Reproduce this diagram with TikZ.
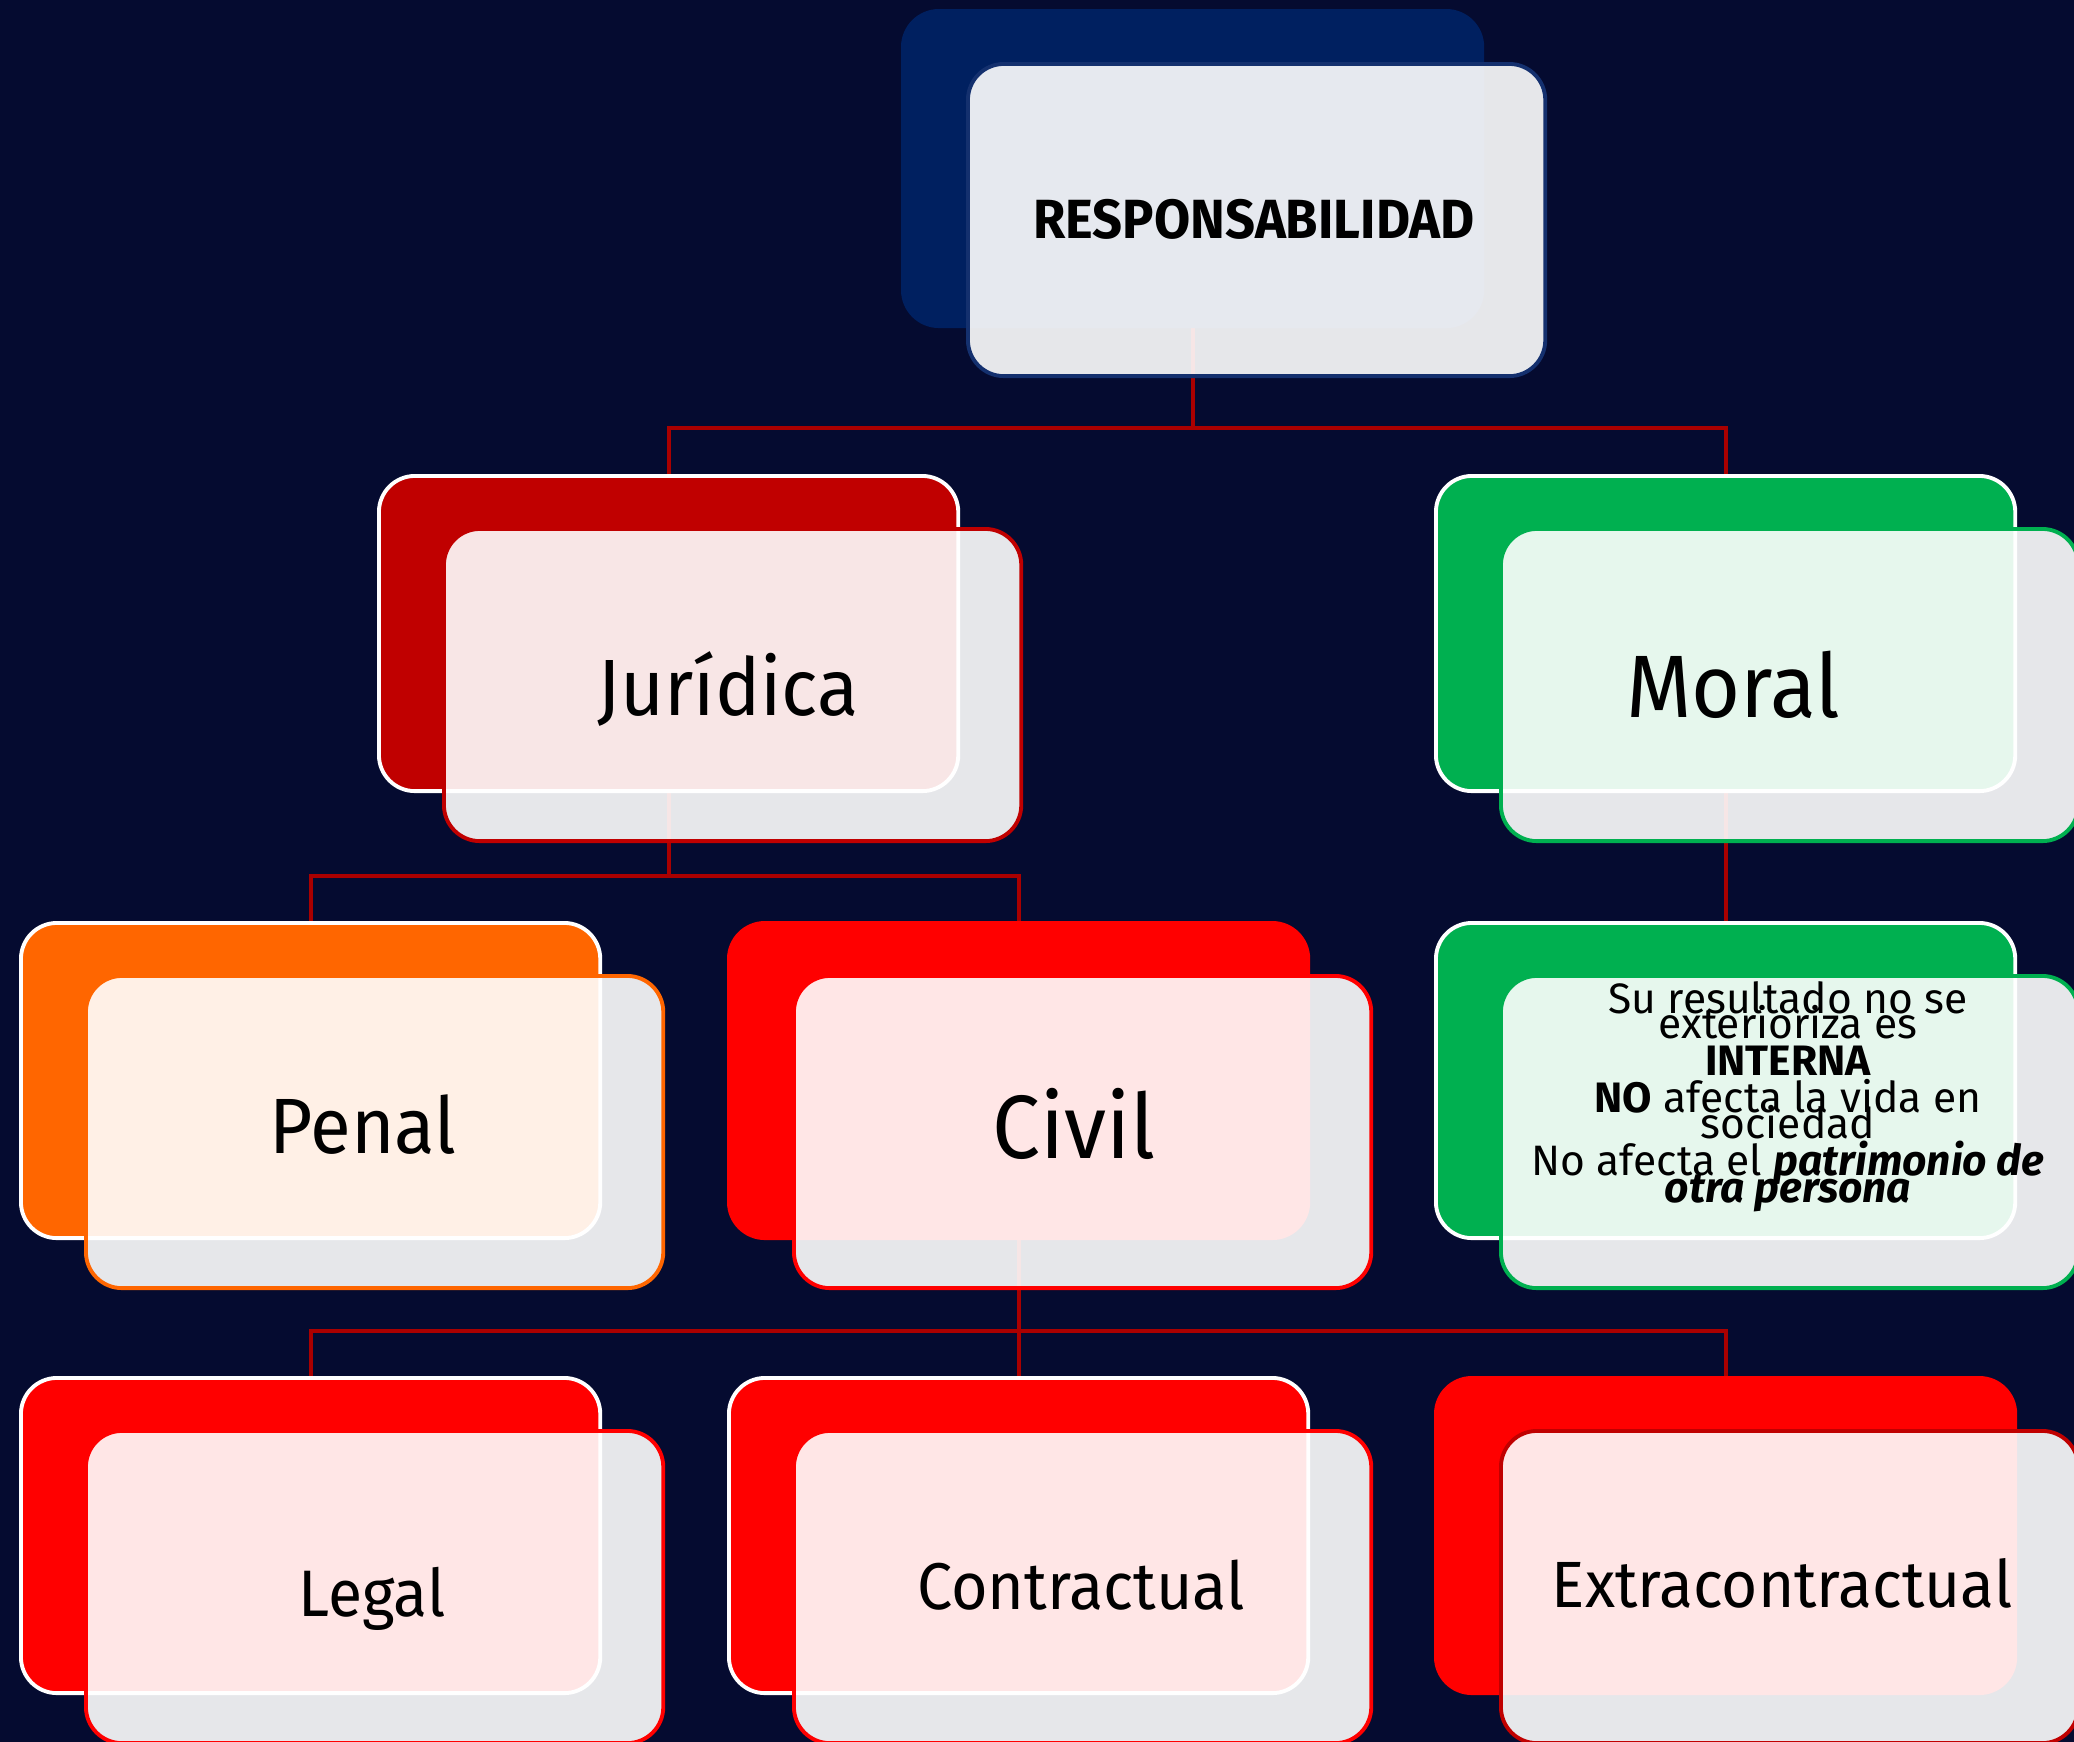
\documentclass[tikz,border=0pt]{standalone}
\usepackage{fontspec}
\setmainfont{Fira Sans}[FakeStretch=0.95]
\newfontfamily\detfont{Fira Sans}
\definecolor{bgc}{RGB}{5,11,48}
\definecolor{navy}{RGB}{0,32,96}
\definecolor{navyline}{RGB}{20,48,110}
\definecolor{dred}{RGB}{192,0,0}
\definecolor{grn}{RGB}{0,176,80}
\definecolor{org}{RGB}{255,102,0}
\definecolor{rd}{RGB}{255,0,0}
\definecolor{connc}{RGB}{170,0,0}
\pgfdeclarelayer{bglayer}
\pgfdeclarelayer{connlayer}
\pgfsetlayers{bglayer,connlayer,main}
\begin{document}
\begin{tikzpicture}[x=0.01cm,y=-0.01cm,
  backbox/.style={line width=1.1pt, rounded corners=0.36cm, minimum width=5.79cm, minimum height=3.15cm, inner sep=0pt, anchor=north west},
  backw/.style={backbox, fill=#1, draw=white},
  backn/.style={backbox, fill=#1, draw=#1},
  frontbox/.style={draw=#1, line width=1.1pt, rounded corners=0.36cm, minimum width=5.77cm, minimum height=3.12cm, inner sep=0pt, anchor=north west, fill=white, fill opacity=0.9, draw opacity=1},
  conn/.style={draw=connc, line width=1.1pt},
  lbl/.style={anchor=base, inner sep=0pt, text=black},
  detl/.style={lbl, font=\detfont\fontsize{12.1}{14}\selectfont},
  detb/.style={lbl, font=\detfont\fontsize{12.1}{14}\selectfont\bfseries}]
\begin{pgfonlayer}{bglayer}
\fill[bgc] (0,0) rectangle (2074,1742);
\end{pgfonlayer}
\useasboundingbox (0,0) rectangle (2074,1742);

% top
\node[backn=navy] (topB) at (901,9) {};
\node[frontbox=navyline] (topF) at (966,62) {};
\node[lbl, font=\fontsize{15.7}{18}\selectfont\bfseries] (topT) at (1254,238) {RESPONSABILIDAD};

% Juridica
\node[backw=dred] (jurB) at (377,474) {};
\node[frontbox=dred] (jurF) at (442,527) {};
\node[lbl, font=\fontsize{22.7}{26}\selectfont] (jurT) at (728,715) {Jurídica};

% Moral
\node[backw=grn] (morB) at (1434,474) {};
\node[frontbox=grn] (morF) at (1499,527) {};
\node[lbl, font=\fontsize{25.2}{29}\selectfont] (morT) at (1733,717) {Moral};

% Penal
\node[backw=org] (penB) at (19,921) {};
\node[frontbox=org] (penF) at (84,974) {};
\node[lbl, font=\fontsize{22.3}{26}\selectfont] (penT) at (363,1153) {Penal};

% Civil
\node[backn=rd] (civB) at (727,921) {};
\node[frontbox=rd] (civF) at (792,974) {};
\node[lbl, font=\fontsize{25.6}{29}\selectfont] (civT) at (1074,1158) {Civil};

% detail
\node[backw=grn] (detB) at (1434,921) {};
\node[frontbox=grn] (detF) at (1499,974) {};
\node[detl] (d1) at (1788,1013) {Su resultado no se};
\node[detl] (d2) at (1788,1038) {exterioriza es};
\node[detb] (d3) at (1788,1075) {INTERNA};
\node[detl] (d4) at (1788,1112) {\textbf{NO} afecta la vida en};
\node[detl] (d5) at (1788,1138) {sociedad};
\node[detl] (d6) at (1788,1175) {No afecta el \textbf{\textit{patrimonio de}}};
\node[detl] (d7) at (1788,1202) {\textbf{\textit{otra persona}}};

% bottom row
\node[backw=rd] (legB) at (19,1376) {};
\node[frontbox=rd] (legF) at (84,1429) {};
\node[lbl, font=\fontsize{18.7}{22}\selectfont] (legT) at (372,1616) {Legal};

\node[backw=rd] (conB) at (727,1376) {};
\node[frontbox=rd] (conF) at (792,1429) {};
\node[lbl, font=\fontsize{18.8}{22}\selectfont] (conT) at (1081,1609) {Contractual};

\node[backn=rd] (extB) at (1434,1376) {};
\node[frontbox=dred] (extF) at (1499,1429) {};
\node[lbl, font=\fontsize{18.6}{22}\selectfont] (extT) at (1782,1607) {Extracontractual};

% connectors
\coordinate (bus1) at (0,428);
\coordinate (bus2) at (0,876);
\coordinate (bus3) at (0,1331);
\begin{pgfonlayer}{connlayer}
\draw[conn] (topB.center) -- (topB.center |- bus1);
\draw[conn] (jurB.north) -- (jurB.north |- bus1) -- (morB.north |- bus1) -- (morB.north);
\draw[conn] (jurB.center) -- (jurB.center |- bus2);
\draw[conn] (penB.north) -- (penB.north |- bus2) -- (civB.north |- bus2) -- (civB.north);
\draw[conn] (morB.center) -- (detB.north);
\draw[conn] (civB.center) -- (conB.north);
\draw[conn] (legB.north) -- (legB.north |- bus3) -- (extB.north |- bus3) -- (extB.north);
\end{pgfonlayer}
\end{tikzpicture}
\end{document}
